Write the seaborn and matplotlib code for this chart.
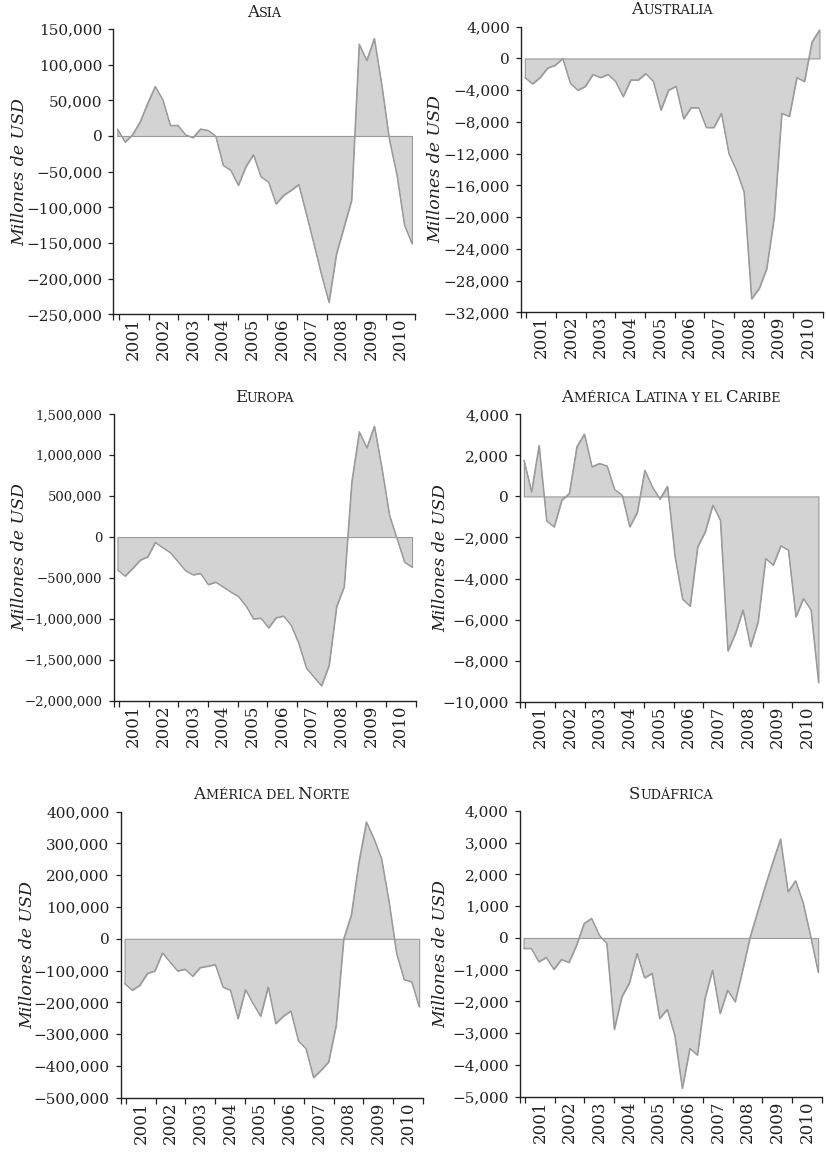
import numpy as np
import pandas as pd
import matplotlib
matplotlib.use("Agg")
import matplotlib.pyplot as plt
import seaborn as sns
from matplotlib.offsetbox import TextArea, HPacker, AnnotationBbox
from matplotlib.ticker import FixedLocator, FuncFormatter, NullFormatter

# ---------------------------------------------------------------- data
regions = ["Asia", "Australia", "Europa",
           "América Latina y el Caribe", "América del Norte", "Sudáfrica"]
years = list(range(2001, 2011))
year_labels = [str(y) for y in years]
ylabel = "Millones de USD"

# quarterly balances, 2001Q1 .. 2010Q4 (millones de USD)
asia = [10000, -8400, 2000, 19900, 46000, 69600, 51000, 15000, 15000, 2000,
        -2300, 10000, 8000, 0, -41000, -48000, -69000, -43000, -26000, -57000,
        -64500, -95000, -83000, -76000, -68000, -109000, -151000, -194000, -233000, -165000,
        -127500, -90000, 129000, 106000, 137000, 71000, -5000, -55000, -125000, -151000]

australia = [-2400, -3200, -2400, -1200, -850, 0, -3100, -4000, -3500, -2000,
             -2400, -2000, -2900, -4800, -2700, -2700, -1900, -2900, -6500, -4000,
             -3500, -7600, -6200, -6200, -8700, -8700, -6900, -12000, -14100, -16800,
             -30300, -29000, -26500, -20000, -6900, -7300, -2400, -2900, 2100, 3600]

europa = [-400000, -475000, -383000, -281000, -240000, -65000, -130000, -190000, -300000, -410000,
          -460000, -444000, -580000, -550000, -610000, -670000, -725000, -840000, -1000000, -990000,
          -1108000, -985000, -965000, -1080000, -1300000, -1600000, -1710000, -1817000, -1570000, -850000,
          -607000, 670000, 1288000, 1092000, 1357000, 839000, 269000, -20000, -306000, -367000]

america_latina = [1770, 230, 2490, -1190, -1480, -180, 150, 2420, 3040, 1450,
                  1610, 1490, 340, 65, -1480, -780, 1280, 470, -130, 500,
                  -2940, -5000, -5340, -2450, -1720, -420, -1150, -7520, -6670, -5530,
                  -7320, -6100, -3020, -3340, -2400, -2610, -5860, -4970, -5530, -9070]

america_norte = [-140600, -161600, -145800, -109000, -100700, -44100, -72400, -100700, -95500, -117500,
                 -90200, -86000, -80800, -151100, -161600, -250800, -159500, -203600, -243400, -151100,
                 -266500, -243400, -226700, -321100, -345200, -436500, -413400, -387200, -272000, 0,
                 75000, 240000, 368300, 315800, 253000, 117000, -46000, -128000, -135000, -214000]

sudafrica = [-326, -326, -746, -609, -987, -672, -767, -221, 462, 620,
             95, -168, -2878, -1849, -1408, -483, -1250, -1113, -2531, -2248,
             -3057, -4737, -3477, -3687, -1900, -1008, -2374, -1639, -2006, -1000,
             50, 850, 1650, 2400, 3120, 1460, 1807, 1113, 42, -1082]

series = [asia, australia, europa, america_latina, america_norte, sudafrica]

# y-axis tick values for each panel
yticks = [
    list(range(-250000, 150001, 50000)),
    list(range(-32000, 4001, 4000)),
    list(range(-2000000, 1500001, 500000)),
    list(range(-10000, 4001, 2000)),
    list(range(-500000, 400001, 100000)),
    list(range(-5000, 4001, 1000)),
]

# time position of each quarter
t = np.linspace(2000.95, 2010.88, 40)

frames = []
for name, vals in zip(regions, series):
    frames.append(pd.DataFrame({"region": name, "t": t, "valor": vals}))
df = pd.concat(frames, ignore_index=True)

# ---------------------------------------------------------------- style
sns.set_theme(style="ticks")
plt.rcParams["font.family"] = ["DejaVu Serif"]
plt.rcParams["axes.unicode_minus"] = True

INK = "#222222"
FILL = "#d3d3d3"
EDGE = "#9a9a9a"

W, H = 826, 1154
fig = plt.figure(figsize=(W / 100, H / 100), dpi=100)

# panel frames in pixels: left, top, width, bottom
frames_px = [
    (113.5, 29.0, 302, 314.3),
    (521.0, 26.7, 302, 312.3),
    (113.6, 414.3, 302, 700.7),
    (520.0, 414.3, 302, 701.7),
    (120.7, 811.7, 302, 1097.7),
    (519.7, 811.0, 302, 1096.7),
]
label_x = [-0.283, -0.255, -0.283, -0.235, -0.280, -0.233]
tick_size = [11, 11, 9.5, 11, 11, 11]

XL, XR = 2000.82, 2011.0


def fmt(v, _):
    return f"{v:,.0f}".replace("-", "\u2212")


def small_caps_title(ax, text, big=12.0, small=9.2):
    runs = []
    for ch in text:
        is_big = ch.isupper()
        piece = ch.upper()
        if runs and runs[-1][1] == is_big:
            runs[-1][0] += piece
        else:
            runs.append([piece, is_big])
    kids = [TextArea(s, textprops=dict(fontsize=big if b else small, color=INK,
                                       family="DejaVu Serif"))
            for s, b in runs]
    box = HPacker(children=kids, align="baseline", pad=0, sep=0)
    ab = AnnotationBbox(box, (0.5, 1.0), xycoords="axes fraction",
                        xybox=(0, 6.0), boxcoords="offset points",
                        box_alignment=(0.5, 0.0), frameon=False, pad=0,
                        annotation_clip=False)
    ax.add_artist(ab)


for k, name in enumerate(regions):
    l, top, w, b = frames_px[k]
    ax = fig.add_axes([l / W, 1 - b / H, w / W, (b - top) / H])
    sub = df[df["region"] == name]

    ax.fill_between(sub["t"], sub["valor"], 0, facecolor=FILL,
                    edgecolor=EDGE, linewidth=0.8, zorder=2)
    sns.lineplot(data=sub, x="t", y="valor", ax=ax, color=EDGE,
                 linewidth=0.8, estimator=None, zorder=3)

    ax.set_xlim(XL, XR)
    ax.set_ylim(yticks[k][0], yticks[k][-1])

    # year boundaries carry the tick marks, year labels sit mid-year
    ax.xaxis.set_major_locator(FixedLocator([XL] + years + [2011]))
    ax.xaxis.set_major_formatter(NullFormatter())
    ax.set_xticks([y + 0.5 for y in years], year_labels, minor=True)
    ax.tick_params(axis="x", which="minor", length=0, pad=2.5,
                   labelsize=12, labelrotation=90, labelcolor=INK)
    ax.tick_params(axis="x", which="major", length=4.5, width=0.9,
                   color=INK, direction="out")

    ax.yaxis.set_major_locator(FixedLocator(yticks[k]))
    ax.yaxis.set_major_formatter(FuncFormatter(fmt))
    ax.tick_params(axis="y", length=3.5, width=0.9, color=INK,
                   direction="out", pad=4.5, labelsize=tick_size[k],
                   labelcolor=INK)

    for s in ("top", "right"):
        ax.spines[s].set_visible(False)
    for s in ("left", "bottom"):
        ax.spines[s].set_color(INK)
        ax.spines[s].set_linewidth(1.0)

    ax.set_xlabel("")
    ax.set_ylabel(ylabel, fontstyle="italic", fontsize=12.5, color=INK)
    ax.yaxis.set_label_coords(label_x[k], 0.5)
    ax.grid(False)
    ax.set_facecolor("white")

    small_caps_title(ax, name)

fig.savefig("out.png", dpi=100, facecolor="white")
